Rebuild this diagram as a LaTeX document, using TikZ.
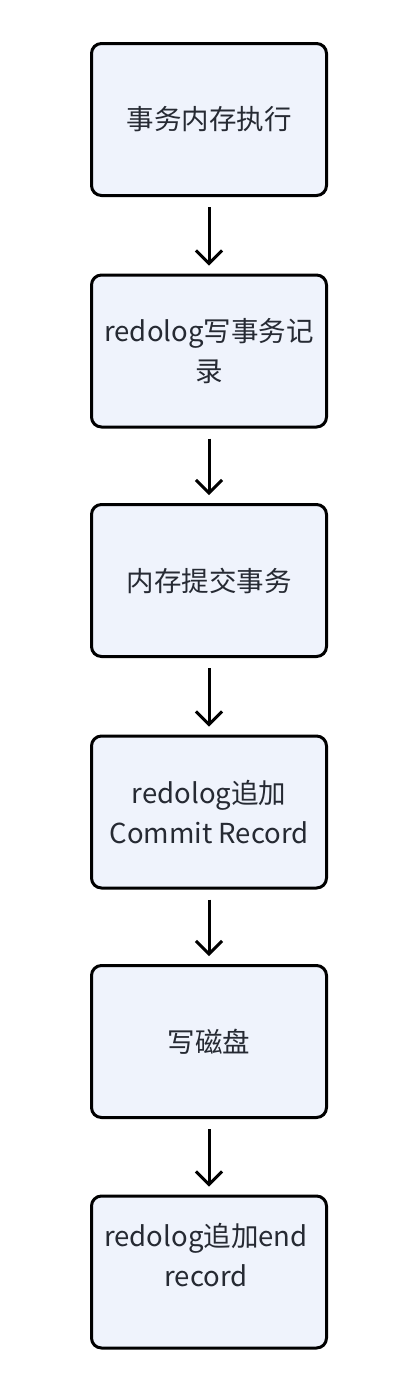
\documentclass[tikz,border=0pt]{standalone}
\usepackage{fontspec}
\setmainfont{Noto Sans CJK SC}
\usetikzlibrary{arrows.meta}
\definecolor{boxfill}{HTML}{EFF3FC}
\definecolor{txt}{HTML}{262A33}
\tikzset{
  stepbox/.style={draw=black, line width=3pt, fill=boxfill, rounded corners=10pt,
    minimum width=235pt, minimum height=152pt, inner sep=0pt, text=txt,
    font=\fontsize{27.5}{40}\selectfont, align=center},
  arr/.style={draw=black, line width=3pt, shorten <=10pt, shorten >=8pt,
    -{Straight Barb[length=13pt,width=26pt,line width=3pt]}}
}
\begin{document}
\begin{tikzpicture}[x=1pt,y=-1pt]
\useasboundingbox (0,0) rectangle (402,1376);
\node[stepbox] (b1) at (209,119.5) {事务内存执行};
\node[stepbox] (b2) at (209,351) {redolog写事务记\\录};
\node[stepbox] (b3) at (209,580.5) {内存提交事务};
\node[stepbox] (b4) at (209,812) {redolog追加\\Commit Record};
\node[stepbox] (b5) at (209,1041.5) {写磁盘};
\node[stepbox] (b6) at (209,1272) {};
\node[text=txt, font=\fontsize{27.5}{40}\selectfont, align=center, inner sep=0pt] (t6) at (206,1255) {redolog追加end\\record};
\draw[arr] (b1) -- (b2);
\draw[arr] (b2) -- (b3);
\draw[arr] (b3) -- (b4);
\draw[arr] (b4) -- (b5);
\draw[arr] (b5) -- (b6);
\end{tikzpicture}
\end{document}
